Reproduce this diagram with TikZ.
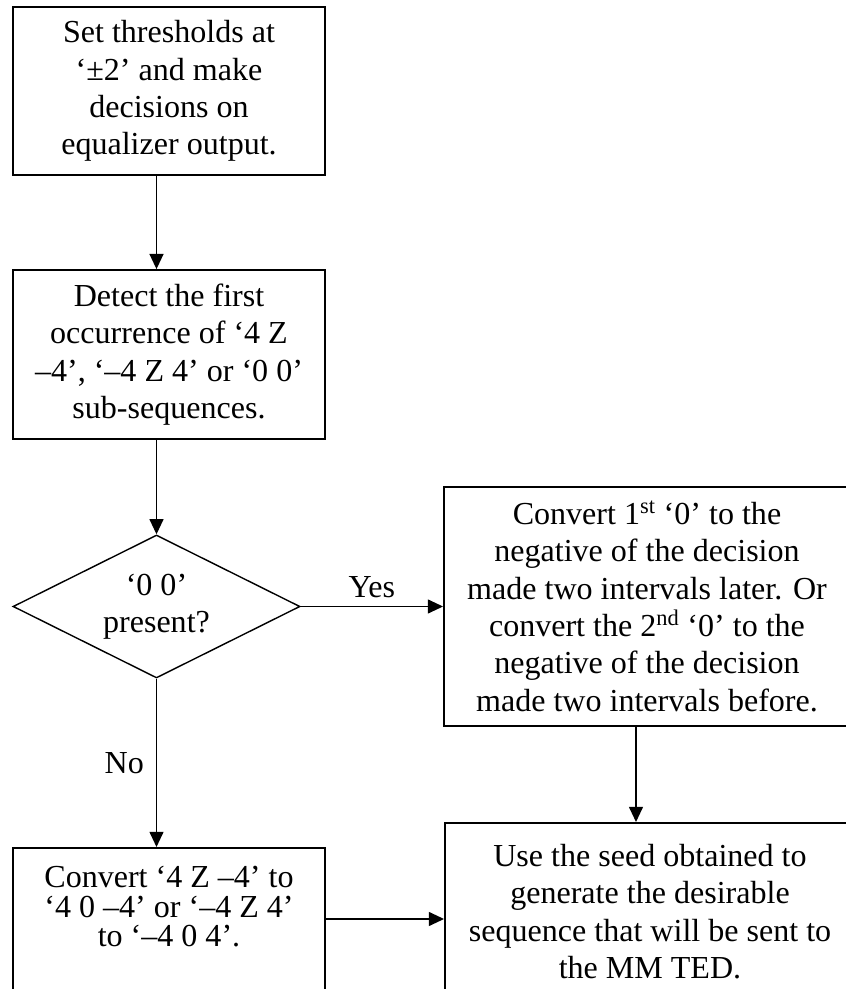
\documentclass[tikz,border=0pt]{standalone}
\usepackage{fontspec}
\setmainfont{Liberation Serif}
\usetikzlibrary{shapes.geometric, arrows.meta, positioning}

\begin{document}
\begin{tikzpicture}[
    font=\fontsize{22.8}{26.6}\selectfont,
    stepbox/.style={draw, line width=1.4pt, rectangle, align=center, inner sep=0pt},
    decbox/.style={draw, line width=1pt, diamond, aspect=2, align=center, inner sep=0pt},
    arr/.style={line width=1pt, -{Triangle[width=0.35cm, length=0.38cm]}}
  ]
  \useasboundingbox (0,0) rectangle (21.15,24.725);
  \clip (0,0) rectangle (21.15,24.725);

  % Left column
  \node[stepbox, minimum width=7.8cm, minimum height=4.2cm] (thr) at (4.225, 22.45) {
    Set thresholds at\\`±2' and make\\decisions on\\equalizer output.
  };
  \node[stepbox, minimum width=7.8cm, minimum height=4.225cm] (det) at (4.225, 15.86) {
    Detect the first\\occurrence of `4 Z\\--4', `--4 Z 4' or `0 0'\\sub-sequences.
  };
  \node[decbox, minimum width=7.175cm, minimum height=3.575cm] (dec) at (3.9125, 9.5625) {
    `0 0'\\present?
  };
  \node[stepbox, anchor=north, inner xsep=0pt, inner ysep=0.45cm] (conv) at (4.225, 3.55) {%
    \parbox[c][2.95cm][t]{7.8cm}{\centering\fontsize{22.8}{21.2}\selectfont
      Convert `4 Z --4' to\\`4 0 --4' or `--4 Z 4'\\to `--4 0 4'.}%
  };

  % Right column
  \node[stepbox, minimum width=10.15cm, minimum height=5.975cm] (neg) at (16.175, 9.5625) {
    Convert 1\textsuperscript{st} `0' to the\\negative of the decision\\made two intervals later. Or\\convert the 2\textsuperscript{nd} `0' to the\\negative of the decision\\made two intervals before.
  };
  \node[stepbox, minimum width=10.25cm, minimum height=4.425cm] (seed) at (16.25, 1.9375) {
    Use the seed obtained to\\generate the desirable\\sequence that will be sent to\\the MM TED.
  };

  % Connectors
  \coordinate (drop) at (15.9, 5);
  \draw[arr] (dec.north |- thr.south) -- (dec.north |- det.north);
  \draw[arr] (dec.north |- det.south) -- (dec.north);
  \draw[arr] (dec.east) -- node[above, inner sep=0.2cm] (yes) {Yes} (neg.west);
  \draw[arr] (dec.south) -- node[left, inner sep=0.3cm] (no) {No} (dec.south |- conv.north);
  \draw[arr] (drop |- neg.south) -- (drop |- seed.north);
  \draw[arr] (conv.east |- 0,1.75) -- (seed.west |- 0,1.75);
\end{tikzpicture}
\end{document}
